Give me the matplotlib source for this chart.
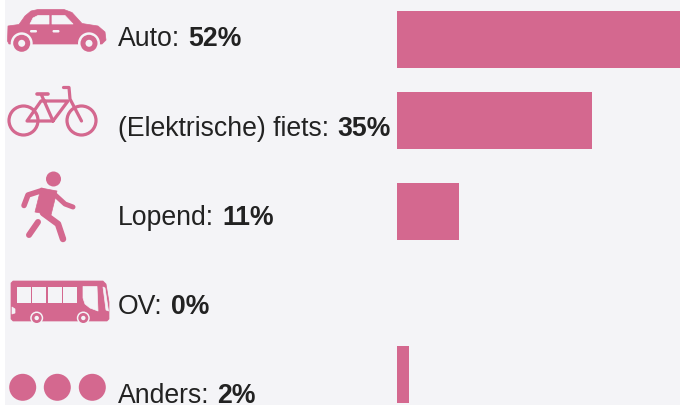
import matplotlib
matplotlib.use('Agg')
import matplotlib.pyplot as plt
from matplotlib.patches import Circle, Polygon, Rectangle, FancyBboxPatch

plt.rcParams['font.family'] = ['Liberation Sans', 'DejaVu Sans']

# data
categories = ['Auto', '(Elektrische) fiets', 'Lopend', 'OV', 'Anders']
value_labels = ['52%', '35%', '11%', '0%', '2%']
bar_lengths = [52, 35.8, 11.4, 0, 2.2]

PINK = '#d4688f'
BG = '#f4f4f7'
TXT = '#222222'
PX = 0.72  # one pixel in points at dpi 100

# row layout in pixels
bar_centers = [40, 121.5, 212, 300, 375]
baselines = [46, 136, 225, 314, 403]

fig = plt.figure(figsize=(6.8, 4.06), dpi=100, facecolor='white')

# overlay in pixel coordinates, for the background, the icons and the text
ax = fig.add_axes([0, 0, 1, 1])
ax.set_xlim(0, 680)
ax.set_ylim(406, 0)
ax.axis('off')
ax.add_patch(Rectangle((5, 0), 675, 406, fc=BG, ec='none'))

# bars
ax_bar = fig.add_axes([397 / 680, 0, 283 / 680, 1])
ax_bar.patch.set_alpha(0)
ax_bar.set_xlim(0, 52)
ax_bar.set_ylim(406, 0)
ax_bar.axis('off')
ax_bar.barh(bar_centers, bar_lengths, height=57, color=PINK)


def line(pts, w, cap='round'):
    xs, ys = zip(*pts)
    ax.plot(xs, ys, color=PINK, lw=w * PX, solid_capstyle=cap, solid_joinstyle='round')


def poly(pts, col=PINK):
    ax.add_patch(Polygon(pts, closed=True, fc=col, ec=col, lw=0.5, joinstyle='round'))


def ring(x, y, r_bg, r_out, r_in):
    ax.add_patch(Circle((x, y), r_bg, fc=BG, ec='none', zorder=3))
    ax.add_patch(Circle((x, y), r_out, fc=PINK, ec='none', zorder=3))
    ax.add_patch(Circle((x, y), r_in, fc=BG, ec='none', zorder=3))


# car
poly([(8, 27), (19, 25.5), (25, 17), (31, 12), (38, 10.5), (64, 10.5), (72, 13.5), (82, 24.5),
      (98, 27), (105, 33), (106, 41), (102, 45), (9, 45), (7.5, 42)])
poly([(30, 25), (49, 25), (49, 16.5), (38, 16.5), (33, 19)], BG)
poly([(52, 16.5), (65, 16.5), (73, 25), (52, 25)], BG)
ax.add_patch(FancyBboxPatch((30, 31), 7, 2.5, boxstyle='round,pad=0,rounding_size=1.2', fc=BG, ec='none'))
ax.add_patch(FancyBboxPatch((52.5, 31), 7, 2.5, boxstyle='round,pad=0,rounding_size=1.2', fc=BG, ec='none'))
ring(21.7, 44.3, 11, 8.5, 3.5)
ring(89, 44.3, 11, 8.5, 3.5)

# bicycle
for cx in (23.5, 81.5):
    ax.add_patch(Circle((cx, 121.5), 14.5, fc='none', ec=PINK, lw=3.2 * PX))
line([(41.5, 96), (53, 122), (27, 122), (41, 102), (68, 102), (53, 122)], 3.2)
line([(63.5, 88.5), (69, 88.5), (70, 100), (81.5, 122)], 3.2)
line([(36.5, 94.5), (47.5, 94.5)], 3.6)

# walking person
ax.add_patch(Circle((53.5, 180), 7.5, fc=PINK, ec='none'))
poly([(41, 189), (57, 192), (51, 216), (35, 213)])
line([(42, 191.5), (28, 196), (24, 206.5)], 5.5)
line([(53, 194), (65, 205), (73, 208)], 5)
line([(38, 223), (29, 236)], 6)
line([(43, 214), (58, 225), (63, 240)], 6.5)

# bus
poly([(13, 282), (103, 282), (106, 285), (109, 303), (109, 320), (107, 322), (13, 322), (11, 320), (11, 284)])
for wx in (16.7, 32.3, 48, 63.3):
    ax.add_patch(Rectangle((wx, 288), 14, 16, fc=BG, ec='none'))
poly([(83, 287.5), (97, 287.5), (98, 312), (90, 309), (85, 305), (83, 299)], BG)
poly([(103, 288), (105, 289), (108.5, 312), (106, 311)], BG)
poly([(12, 308), (15, 310), (15, 314), (12, 315)], BG)
ring(36.7, 319, 6.5, 5, 2.2)
ring(83.3, 319, 6.5, 5, 2.2)

# dots
for cx in (22.7, 57.3, 92.3):
    ax.add_patch(Circle((cx, 388.3), 13.5, fc=PINK, ec='none'))

# labels: regular name followed by the bold value
fig.canvas.draw()
renderer = fig.canvas.get_renderer()
for name, val, y in zip(categories, value_labels, baselines):
    t = ax.text(118, y, name + ':', fontsize=19.2, color=TXT, va='baseline', ha='left')
    x1 = ax.transData.inverted().transform(t.get_window_extent(renderer).get_points())[1, 0]
    ax.text(x1 + 8, y, val, fontsize=19.2, fontweight='bold', color=TXT, va='baseline', ha='left')

fig.savefig('out.png', dpi=100, facecolor='white')
